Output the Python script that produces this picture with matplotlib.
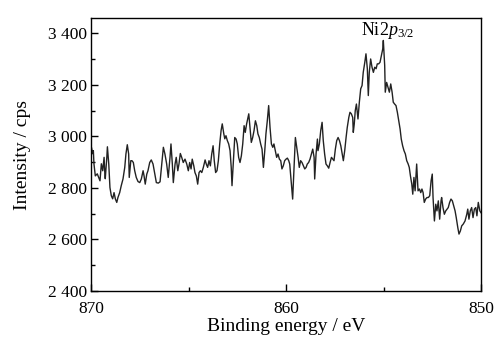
import matplotlib
matplotlib.use("Agg")
import matplotlib.pyplot as plt
from matplotlib.ticker import MultipleLocator, FuncFormatter

# ---------------- DATA ----------------
energy = [
    870.00, 869.98, 869.91, 869.88, 869.85, 869.78, 869.68, 869.61, 869.54, 869.47,
    869.40, 869.33, 869.30, 869.27, 869.19, 869.16, 869.09, 869.03, 868.96, 868.89,
    868.82, 868.75, 868.68, 868.62, 868.53, 868.45, 868.36, 868.27, 868.21, 868.14,
    868.07, 868.04, 867.96, 867.90, 867.83, 867.76, 867.68, 867.59, 867.50, 867.42,
    867.33, 867.28, 867.22, 867.14, 867.08, 866.99, 866.91, 866.82, 866.73, 866.65,
    866.55, 866.46, 866.37, 866.29, 866.21, 866.12, 866.04, 865.95, 865.90, 865.83,
    865.78, 865.69, 865.63, 865.55, 865.49, 865.42, 865.35, 865.27, 865.18, 865.09,
    865.01, 864.94, 864.87, 864.81, 864.73, 864.67, 864.60, 864.53, 864.46, 864.39,
    864.32, 864.24, 864.15, 864.09, 864.02, 863.95, 863.88, 863.81, 863.74, 863.68,
    863.61, 863.54, 863.47, 863.40, 863.33, 863.27, 863.19, 863.14, 863.08, 863.01,
    862.94, 862.87, 862.81, 862.77, 862.70, 862.63, 862.56, 862.50, 862.43, 862.36,
    862.29, 862.22, 862.15, 862.09, 862.02, 861.95, 861.91, 861.85, 861.78, 861.71,
    861.64, 861.57, 861.50, 861.44, 861.37, 861.30, 861.23, 861.16, 861.09, 861.03,
    860.96, 860.89, 860.82, 860.75, 860.68, 860.62, 860.55, 860.48, 860.41, 860.34,
    860.27, 860.21, 860.14, 860.07, 860.00, 859.93, 859.86, 859.81, 859.74, 859.66,
    859.61, 859.55, 859.52, 859.45, 859.38, 859.32, 859.25, 859.18, 859.11, 859.04,
    858.97, 858.91, 858.84, 858.77, 858.70, 858.63, 858.56, 858.53, 858.46, 858.39,
    858.36, 858.29, 858.22, 858.15, 858.09, 858.02, 857.95, 857.88, 857.81, 857.74,
    857.67, 857.60, 857.54, 857.47, 857.40, 857.33, 857.26, 857.19, 857.13, 857.06,
    856.99, 856.92, 856.86, 856.78, 856.72, 856.65, 856.58, 856.55, 856.50, 856.45,
    856.39, 856.31, 856.24, 856.17, 856.10, 856.04, 855.96, 855.90, 855.83, 855.78,
    855.73, 855.66, 855.59, 855.52, 855.45, 855.38, 855.32, 855.25, 855.18, 855.11,
    855.04, 855.01, 854.94, 854.91, 854.84, 854.77, 854.70, 854.63, 854.56, 854.50,
    854.43, 854.36, 854.29, 854.22, 854.15, 854.09, 854.02, 853.95, 853.88, 853.81,
    853.74, 853.68, 853.62, 853.55, 853.50, 853.44, 853.38, 853.30, 853.23, 853.16,
    853.09, 853.03, 852.97, 852.91, 852.84, 852.77, 852.70, 852.63, 852.56, 852.50,
    852.46, 852.39, 852.32, 852.26, 852.19, 852.12, 852.05, 852.02, 851.95, 851.88,
    851.81, 851.74, 851.68, 851.61, 851.54, 851.47, 851.40, 851.33, 851.27, 851.19,
    851.13, 851.06, 850.99, 850.91, 850.82, 850.73, 850.68, 850.62, 850.55, 850.48,
    850.41, 850.34, 850.27, 850.21, 850.14, 850.06, 850.00,
]
intensity = [
    2906, 2958, 2933, 2945, 2894, 2847, 2855, 2841, 2828, 2894,
    2867, 2919, 2867, 2836, 2919, 2960, 2893, 2802, 2770, 2758,
    2782, 2757, 2744, 2763, 2782, 2809, 2835, 2880, 2932, 2968,
    2932, 2841, 2906, 2906, 2899, 2867, 2841, 2825, 2821, 2835,
    2867, 2847, 2815, 2854, 2867, 2899, 2909, 2893, 2854, 2821,
    2819, 2824, 2893, 2958, 2932, 2893, 2841, 2919, 2971, 2893,
    2821, 2893, 2919, 2867, 2893, 2934, 2919, 2899, 2912, 2893,
    2867, 2899, 2874, 2912, 2886, 2860, 2847, 2815, 2860, 2867,
    2860, 2880, 2909, 2893, 2880, 2906, 2886, 2932, 2964, 2906,
    2860, 2867, 2906, 2971, 3023, 3049, 3010, 2991, 3003, 2984,
    2971, 2945, 2880, 2809, 2906, 2996, 2990, 2971, 2919, 2899,
    2925, 2971, 3042, 3016, 3049, 3074, 3088, 3035, 2977, 2996,
    3023, 3061, 3042, 3010, 2996, 2971, 2951, 2880, 2945, 3010,
    3061, 3120, 3035, 2971, 2958, 2971, 2945, 2919, 2932, 2912,
    2906, 2874, 2886, 2906, 2912, 2916, 2906, 2893, 2828, 2757,
    2841, 2945, 2996, 2958, 2919, 2880, 2906, 2899, 2886, 2874,
    2880, 2893, 2899, 2912, 2932, 2951, 2919, 2835, 2932, 2990,
    2945, 2971, 3023, 3055, 2984, 2932, 2893, 2886, 2877, 2899,
    2919, 2912, 2906, 2951, 2984, 2996, 2984, 2964, 2938, 2906,
    2945, 2996, 3035, 3074, 3094, 3088, 3074, 3016, 3049, 3100,
    3126, 3068, 3133, 3185, 3198, 3249, 3288, 3321, 3263, 3159,
    3249, 3301, 3269, 3249, 3269, 3263, 3282, 3282, 3288, 3314,
    3340, 3373, 3276, 3172, 3210, 3191, 3172, 3204, 3172, 3133,
    3126, 3120, 3094, 3061, 3029, 2990, 2964, 2945, 2932, 2906,
    2894, 2880, 2847, 2815, 2776, 2841, 2789, 2893, 2789, 2796,
    2782, 2796, 2782, 2744, 2757, 2763, 2763, 2770, 2828, 2854,
    2763, 2672, 2737, 2711, 2750, 2679, 2750, 2763, 2724, 2698,
    2711, 2718, 2724, 2744, 2757, 2750, 2731, 2711, 2685, 2646,
    2621, 2633, 2653, 2660, 2672, 2698, 2718, 2679, 2711, 2724,
    2685, 2718, 2724, 2692, 2744, 2711, 2704,
]

peak_label = r"Ni2$\mathit{p}_{3/2}$"
peak_pos = (854.8, 3410)

# ---------------- STYLE ----------------
plt.rcParams["font.family"] = ["Liberation Serif", "DejaVu Serif"]
plt.rcParams["mathtext.fontset"] = "custom"
plt.rcParams["mathtext.rm"] = "Liberation Serif"
plt.rcParams["mathtext.it"] = "Liberation Serif:italic"

fig = plt.figure(figsize=(5.04, 3.37), dpi=100)
ax = fig.add_axes([0.1806, 0.1365, 0.7738, 0.81])

ax.plot(energy, intensity, color="#222222", lw=1.0)

ax.set_xlim(870, 850)
ax.set_ylim(2400, 3460)

ax.xaxis.set_major_locator(MultipleLocator(10))
ax.xaxis.set_minor_locator(MultipleLocator(5))
ax.yaxis.set_major_locator(MultipleLocator(200))
ax.yaxis.set_minor_locator(MultipleLocator(100))
ax.yaxis.set_major_formatter(FuncFormatter(lambda v, p: f"{int(v):,}".replace(",", " ")))

ax.tick_params(which="both", direction="in", top=False, right=False, labelsize=12.5, width=1)
ax.tick_params(which="major", length=5)
ax.tick_params(axis="x", which="major", pad=7)
ax.tick_params(axis="y", which="major", pad=3)
ax.tick_params(which="minor", length=3)

for s in ax.spines.values():
    s.set_linewidth(1.0)

ax.set_xlabel("Binding energy / eV", fontsize=14, labelpad=1)
ax.set_ylabel("Intensity / cps", fontsize=14, labelpad=12)

ax.text(peak_pos[0], peak_pos[1], peak_label, ha="center", va="center", fontsize=13)

fig.savefig("out.png", dpi=100)
